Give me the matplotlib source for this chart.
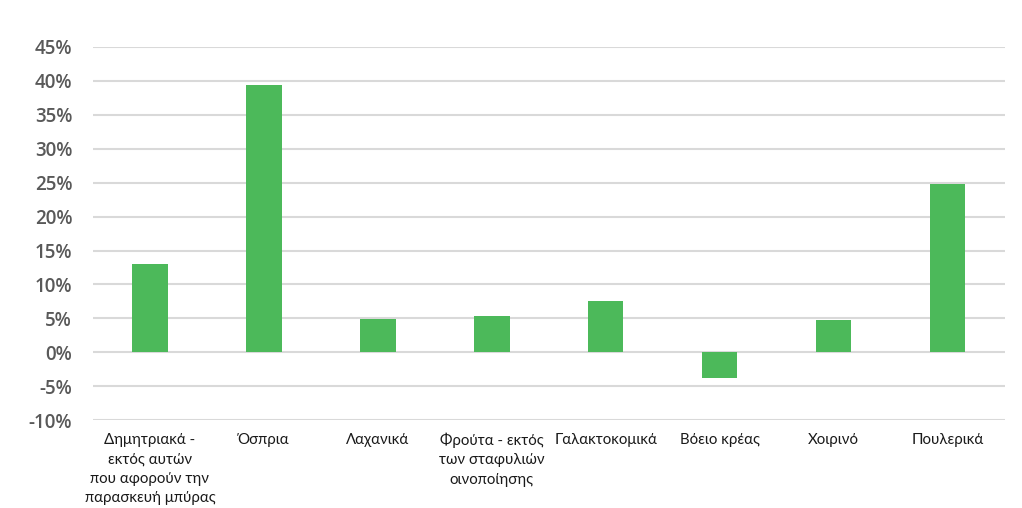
import matplotlib
matplotlib.use("Agg")
import matplotlib.pyplot as plt
from matplotlib.ticker import FuncFormatter, MultipleLocator

categories = [
    "Δημητριακά -\nεκτός αυτών\nπου αφορούν την\nπαρασκευή μπύρας",
    "Όσπρια",
    "Λαχανικά",
    "Φρούτα - εκτός\nτων σταφυλιών\nοινοποίησης",
    "Γαλακτοκομικά",
    "Βόειο κρέας",
    "Χοιρινό",
    "Πουλερικά",
]
values = [13.0, 39.4, 4.9, 5.4, 7.6, -3.8, 4.8, 24.8]

fig = plt.figure(figsize=(10.22, 5.08), dpi=100)
ax = fig.add_axes([0.091, 0.173, 0.892, 0.7345])

x = list(range(len(categories)))
ax.bar(x, values, width=0.31, color="#4cb95a", zorder=3)

ax.set_xlim(-0.5, len(categories) - 0.5)
ax.set_ylim(-10, 45)
ax.yaxis.set_major_locator(MultipleLocator(5))
ax.yaxis.set_major_formatter(FuncFormatter(lambda v, p: f"{v:.0f}%"))
ax.grid(axis="y", color="#d9d9d9", linewidth=1.5, zorder=0)
for s in ax.spines.values():
    s.set_visible(False)
ax.tick_params(axis="y", length=0, pad=15, labelsize=13.5, labelcolor="#595959")
ax.tick_params(axis="x", length=0, pad=9)
ax.set_xticks(x)
ax.set_xticklabels(categories, fontsize=10.8, color="#1a1a1a", family=["Lato", "DejaVu Sans"],
                   va="top", linespacing=1.5)
for lbl in ax.get_yticklabels():
    lbl.set_family("Open Sans")
    lbl.set_weight("semibold")

fig.savefig("out.png", dpi=100)
